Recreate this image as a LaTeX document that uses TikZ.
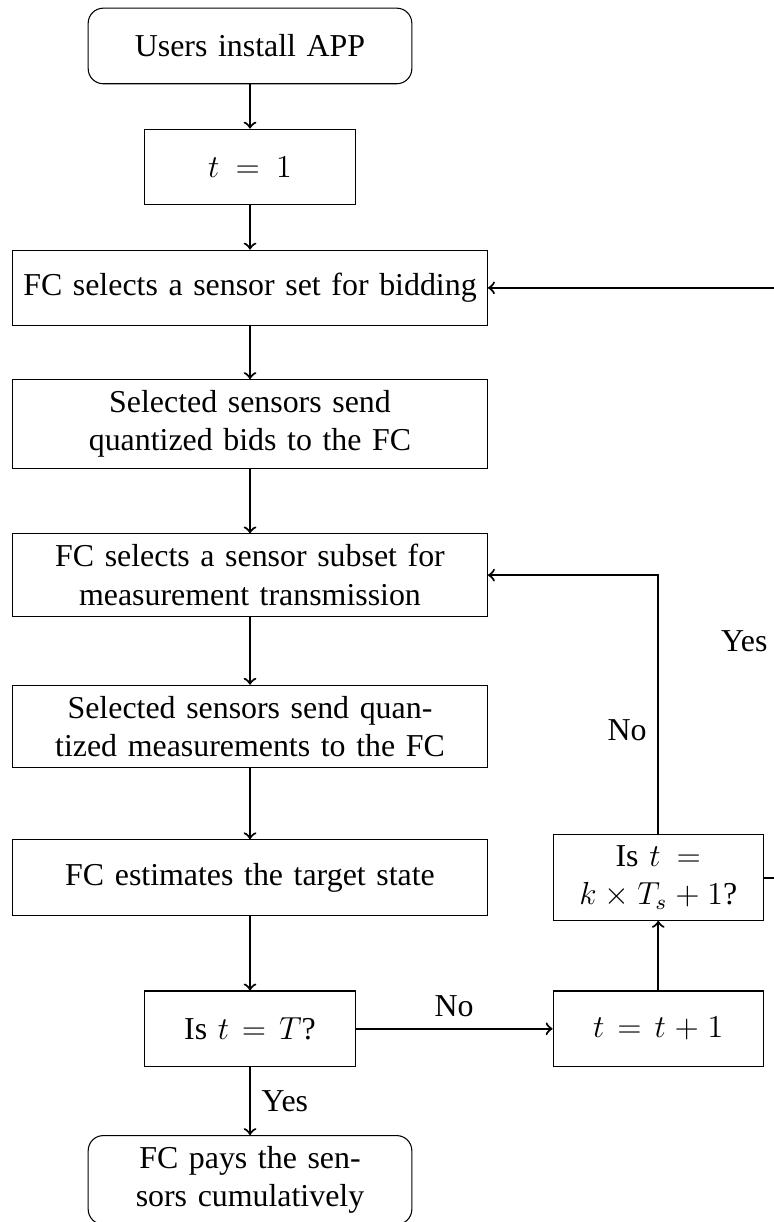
\documentclass[tikz,border=0pt]{standalone}
\usepackage[no-math]{fontspec}
\setmainfont{Liberation Serif}
\begin{document}
\begin{tikzpicture}[
  font=\fontsize{12}{14.5}\selectfont,
  base/.style={draw, thin, minimum height=1cm, align=center, inner sep=4pt},
  term/.style={base, rounded corners=0.2cm, text width=4cm},
  wide/.style={base, text width=6cm},
  narrow/.style={base, text width=2.5cm},
  arr/.style={->, thick},
  lbl/.style={inner sep=4pt}
]
\useasboundingbox (-3.307,0.608) rectangle (6.93,-15.556);
\clip (-3.307,0.608) rectangle (6.93,-15.556);

\node[term]   (start)    at (0,0)     {Users install APP};
\node[narrow] (init)     at (0,-1.6)  {$t = 1$};
\node[wide]   (bid)      at (0,-3.2)  {FC selects a sensor set for bidding};
\node[wide]   (sendbid)  at (0,-5)    {Selected sensors send\\quantized bids to the FC};
\node[wide]   (subset)   at (0,-7)    {FC selects a sensor subset for\\measurement transmission};
\node[wide]   (sendmeas) at (0,-9)    {Selected sensors send quan-\\tized measurements to the FC};
\node[wide]   (est)      at (0,-11)   {FC estimates the target state};
\node[narrow] (dec)      at (0,-13)   {Is $t = T$?};
\node[term]   (pay)      at (0,-15)   {FC pays the sen-\\sors cumulatively};
\node[narrow] (inc)      at (5.4,-13) {$t = t + 1$};
\node[narrow] (chk)      at (5.4,-11) {Is $t = k \times T_s + 1$?};
\coordinate (yc) at (7,-11);

\draw[arr] (start) -- (init);
\draw[arr] (init) -- (bid);
\draw[arr] (bid) -- (sendbid);
\draw[arr] (sendbid) -- (subset);
\draw[arr] (subset) -- (sendmeas);
\draw[arr] (sendmeas) -- (est);
\draw[arr] (est) -- (dec);
\draw[arr] (dec) -- node[lbl, right] {Yes} (pay);
\draw[arr] (dec) -- node[lbl, above] {No} (inc);
\draw[arr] (inc) -- (chk);
\draw[arr] (chk.north) |- node[lbl, pos=0.2, left] {No} (subset.east);
\draw[arr] (chk.east) -- (yc) |- node[lbl, pos=0.2, left] {Yes} (bid.east);
\end{tikzpicture}
\end{document}
